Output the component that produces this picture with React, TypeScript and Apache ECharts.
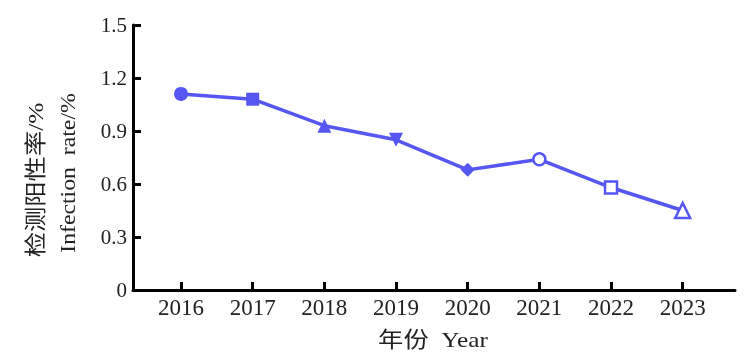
import React, { useEffect, useRef } from "react";
import * as echarts from "echarts";

const years = [2016, 2017, 2018, 2019, 2020, 2021, 2022, 2023];
const rates = [1.11, 1.08, 0.93, 0.85, 0.68, 0.74, 0.58, 0.45];
const yTicks = [0, 0.3, 0.6, 0.9, 1.2, 1.5];
const yTitleCn = "检测阳性率/%";
const yTitleEn = "Infection  rate/%";
const xTitle = "年份  Year";

const COLOR = "#5656f2";
const markers = [
  { symbol: "circle", rotate: 0, filled: true, size: 14 },
  { symbol: "rect", rotate: 0, filled: true, size: 13 },
  { symbol: "triangle", rotate: 0, filled: true, size: 14 },
  { symbol: "triangle", rotate: 180, filled: true, size: 14 },
  { symbol: "diamond", rotate: 0, filled: true, size: 14 },
  { symbol: "circle", rotate: 0, filled: false, size: 12 },
  { symbol: "rect", rotate: 0, filled: false, size: 12 },
  { symbol: "triangle", rotate: 0, filled: false, size: 15 },
];

export default function App() {
  const ref = useRef<HTMLDivElement>(null);
  useEffect(() => {
    if (!ref.current) return;
    const chart = echarts.init(ref.current, null, { renderer: "svg" });
    const font = "'Liberation Serif', 'Times New Roman', serif";
    const cjk = "'Liberation Serif', 'Noto Sans CJK SC', serif";
    chart.setOption({
      animation: false,
      grid: { left: 133, top: 25, right: 16, bottom: 69, containLabel: false },
      xAxis: {
        type: "value",
        min: 2015.33,
        max: 2023.73,
        splitLine: { show: false },
        axisLine: { show: true, lineStyle: { color: "#000", width: 3 } },
        axisTick: {
          show: true,
          inside: true,
          length: 8,
          customValues: years,
          lineStyle: { color: "#000", width: 3 },
        },
        axisLabel: {
          customValues: years,
          formatter: (v: number) => String(Math.round(v)),
          color: "#222",
          fontFamily: font,
          fontSize: 23,
          margin: 6,
        },
      },
      yAxis: {
        type: "value",
        min: 0,
        max: 1.5,
        interval: 0.3,
        splitLine: { show: false },
        axisLine: { show: true, lineStyle: { color: "#000", width: 3 } },
        axisTick: {
          show: true,
          inside: true,
          length: 8,
          customValues: yTicks,
          lineStyle: { color: "#000", width: 3 },
        },
        axisLabel: {
          customValues: yTicks,
          formatter: (v: number) => (v === 0 ? "0" : v.toFixed(1)),
          color: "#222",
          fontFamily: font,
          fontSize: 21,
          margin: 6,
        },
      },
      graphic: [
        {
          type: "text",
          x: 36,
          y: 180,
          rotation: Math.PI / 2,
          scaleX: 1.15,
          style: {
            text: yTitleCn,
            fill: "#222",
            font: `22px ${cjk}`,
            align: "center",
            verticalAlign: "middle",
          },
        },
        {
          type: "text",
          x: 68,
          y: 173,
          rotation: Math.PI / 2,
          scaleX: 1.08,
          style: {
            text: yTitleEn,
            fill: "#222",
            font: `22px ${font}`,
            align: "center",
            verticalAlign: "middle",
          },
        },
        {
          type: "text",
          x: 433,
          y: 340,
          scaleX: 1.15,
          style: {
            text: xTitle,
            fill: "#222",
            font: `22px ${cjk}`,
            align: "center",
            verticalAlign: "middle",
          },
        },
      ],
      series: [
        {
          type: "line",
          data: years.map((y, i) => {
            const m = markers[i];
            return {
              value: [y, rates[i]],
              symbol: m.symbol,
              symbolRotate: m.rotate,
              symbolSize: m.size,
              itemStyle: {
                color: m.filled ? COLOR : "#fff",
                borderColor: COLOR,
                borderWidth: m.filled ? 0 : 2.5,
              },
            };
          }),
          lineStyle: { color: COLOR, width: 3.5 },
          showAllSymbol: true,
          z: 3,
        },
      ],
    });
    return () => chart.dispose();
  }, []);
  return (
    <div
      ref={ref}
      style={{ position: "fixed", left: 0, top: 0, width: 751, height: 359 }}
    />
  );
}
